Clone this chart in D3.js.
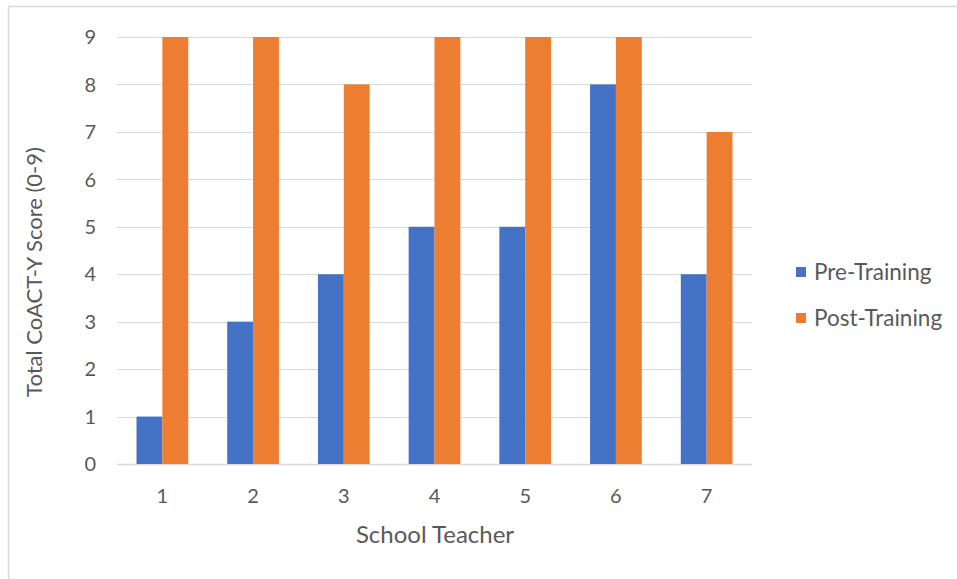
<!DOCTYPE html>
<html>
<head>
<meta charset="utf-8">
<script src="https://cdn.jsdelivr.net/npm/d3@7"></script>
<style>
  body { margin: 0; background: #fff; }
  svg text { font-family: Lato, "Open Sans", sans-serif; fill: #595959; }
</style>
</head>
<body>
<svg id="chart" width="957" height="579"></svg>
<script>
// Teachers and their total scores before and after the training
const teachers = ["1", "2", "3", "4", "5", "6", "7"];
const preTraining = [1, 3, 4, 5, 5, 8, 4];
const postTraining = [9, 9, 8, 9, 9, 9, 7];
const seriesNames = ["Pre-Training", "Post-Training"];
const seriesColors = ["#4472C4", "#ED7D31"];
const yTicks = [0, 1, 2, 3, 4, 5, 6, 7, 8, 9];

const svg = d3.select("#chart");

// outer chart frame
svg.append("rect")
  .attr("x", 8.5).attr("y", 6.5)
  .attr("width", 1000).attr("height", 1000)
  .attr("fill", "none").attr("stroke", "#d9d9d9").attr("stroke-width", 1.5);

const plot = { left: 117, right: 752, top: 37, bottom: 464 };

const x = d3.scaleBand().domain(teachers).range([plot.left, plot.right]).paddingInner(0).paddingOuter(0);
const inner = d3.scaleBand().domain(seriesNames).range([x.bandwidth() * 0.215, x.bandwidth() * 0.785]);
const y = d3.scaleLinear().domain([0, 9]).range([plot.bottom, plot.top]);

// horizontal gridlines
svg.append("g").selectAll("line").data(yTicks).join("line")
  .attr("x1", plot.left).attr("x2", plot.right)
  .attr("y1", d => Math.round(y(d)) + 0.5).attr("y2", d => Math.round(y(d)) + 0.5)
  .attr("stroke", "#d9d9d9").attr("stroke-width", d => d === 0 ? 1.5 : 1.2);

// y tick labels
svg.append("g").selectAll("text").data(yTicks).join("text")
  .attr("x", 96).attr("y", d => y(d))
  .attr("dy", "0.36em").attr("text-anchor", "end")
  .attr("font-size", 20).text(d => d);

// bars
const rows = teachers.map((t, i) => ({ t, vals: [preTraining[i], postTraining[i]] }));
const groups = svg.append("g").selectAll("g").data(rows).join("g")
  .attr("transform", d => `translate(${x(d.t)},0)`);
groups.selectAll("rect").data(d => d.vals.map((v, k) => ({ v, k }))).join("rect")
  .attr("x", d => inner(seriesNames[d.k]))
  .attr("width", inner.bandwidth())
  .attr("y", d => y(d.v))
  .attr("height", d => y(0) - y(d.v))
  .attr("fill", d => seriesColors[d.k]);

// x tick labels
svg.append("g").selectAll("text").data(teachers).join("text")
  .attr("x", d => x(d) + x.bandwidth() / 2).attr("y", 503)
  .attr("text-anchor", "middle").attr("font-size", 20).text(d => d);

// axis titles
svg.append("text")
  .attr("x", 435).attr("y", 543)
  .attr("text-anchor", "middle").attr("font-size", 24)
  .text("School Teacher");
svg.append("text")
  .attr("transform", "translate(42,272) rotate(-90)")
  .attr("text-anchor", "middle").attr("font-size", 22)
  .text("Total CoACT-Y Score (0-9)");

// legend
const legend = svg.append("g").selectAll("g").data(seriesNames).join("g")
  .attr("transform", (d, i) => `translate(796,${272 + i * 46})`);
legend.append("rect")
  .attr("x", 0).attr("y", -5).attr("width", 10).attr("height", 10)
  .attr("fill", (d, i) => seriesColors[i]);
legend.append("text")
  .attr("x", 18).attr("y", 0).attr("dy", "0.36em")
  .attr("font-size", 22.5).text(d => d);
</script>
</body>
</html>
